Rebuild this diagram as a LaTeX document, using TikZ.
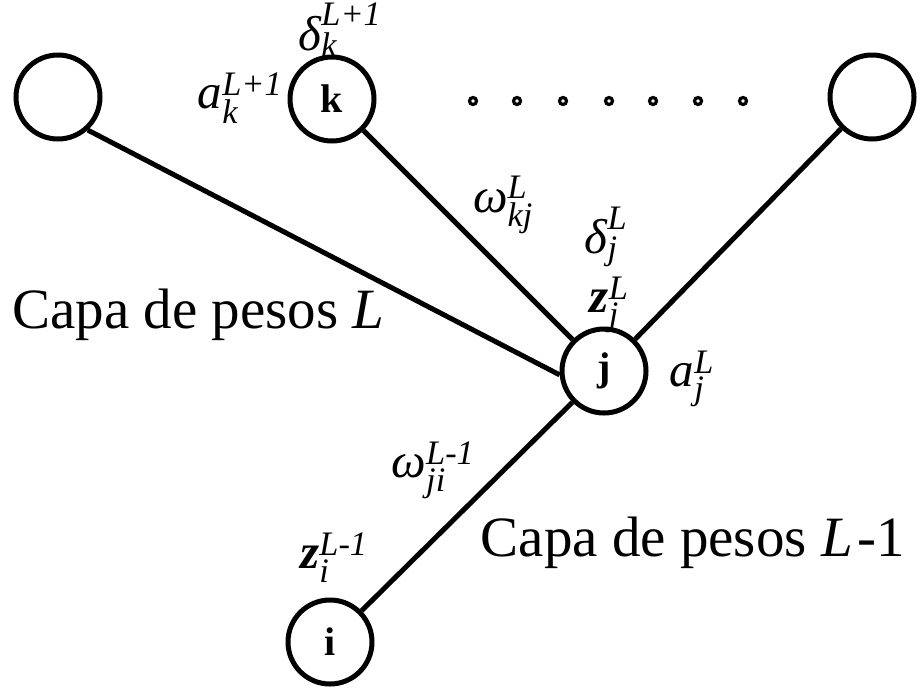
\documentclass[tikz,border=0pt]{standalone}
\usepackage{fontspec}
\usepackage{amsmath}
\setmainfont{Liberation Serif}
\begin{document}
\begin{tikzpicture}[x=1pt,y=-1pt,
  neuron/.style={circle,draw,line width=5pt,minimum size=84pt,inner sep=0pt,font=\fontsize{40}{40}\selectfont\bfseries},
  link/.style={line width=5pt},
  dotring/.style={circle,draw,line width=3.2pt,minimum size=7pt,inner sep=0pt},
  lbl/.style={inner sep=0pt,font=\fontsize{49}{49}\selectfont},
  big/.style={inner sep=0pt,font=\fontsize{57}{57}\selectfont}]
\useasboundingbox (0,0) rectangle (917,694);
% neurons
\node[neuron] (lft) at (58,97) {};
\node[neuron] (k) at (332,99) {k};
\node[neuron] (rgt) at (872,97) {};
\node[neuron] (j) at (604,371) {j};
\node[neuron] (i) at (330,642) {i};
% connectors
\draw[link] (lft.-48) -- (j.185);
\draw[link] (k) -- (j);
\draw[link] (rgt) -- (j);
\draw[link] (j) -- (i);
% dots
\foreach \n/\x in {1/473,2/517,3/563,4/609,5/653,6/698,7/743}
  \node[dotring] (dot\n) at (\x,101) {};
% labels
\node[lbl] (dk) at (340,30) {$\textit{δ}^{\textit{L+1}}_{\textit{k}}$};
\node[lbl] (ak) at (240,98) {$\textit{a}^{\textit{L+1}}_{\textit{k}}$};
\node[lbl] (wkj) at (503,205) {$\textit{ω}^{\textit{L}}_{\textit{kj}}$};
\node[lbl] (dj) at (606,237) {$\textit{δ}^{\textit{L}}_{\textit{j}}$};
\node[lbl] (zj) at (609,305) {$\textbf{\textit{z}}^{\textit{L}}_{\textit{j}}$};
\node[lbl] (aj) at (692,379) {$\textit{a}^{\textit{L}}_{\textit{j}}$};
\node[lbl] (wji) at (433,470) {$\textit{ω}^{\textit{L-1}}_{\textit{ji}}$};
\node[lbl] (zi) at (334,558) {$\textbf{\textit{z}}^{\textit{L-1}}_{\textit{i}}$};
\node[big,anchor=base west] (capaL) at (12,328) {Capa de pesos \textit{L}};
\node[big,anchor=base east] (capaL1) at (905,556) {Capa de pesos \textit{L}\kern0.08em-1};
\end{tikzpicture}
\end{document}
